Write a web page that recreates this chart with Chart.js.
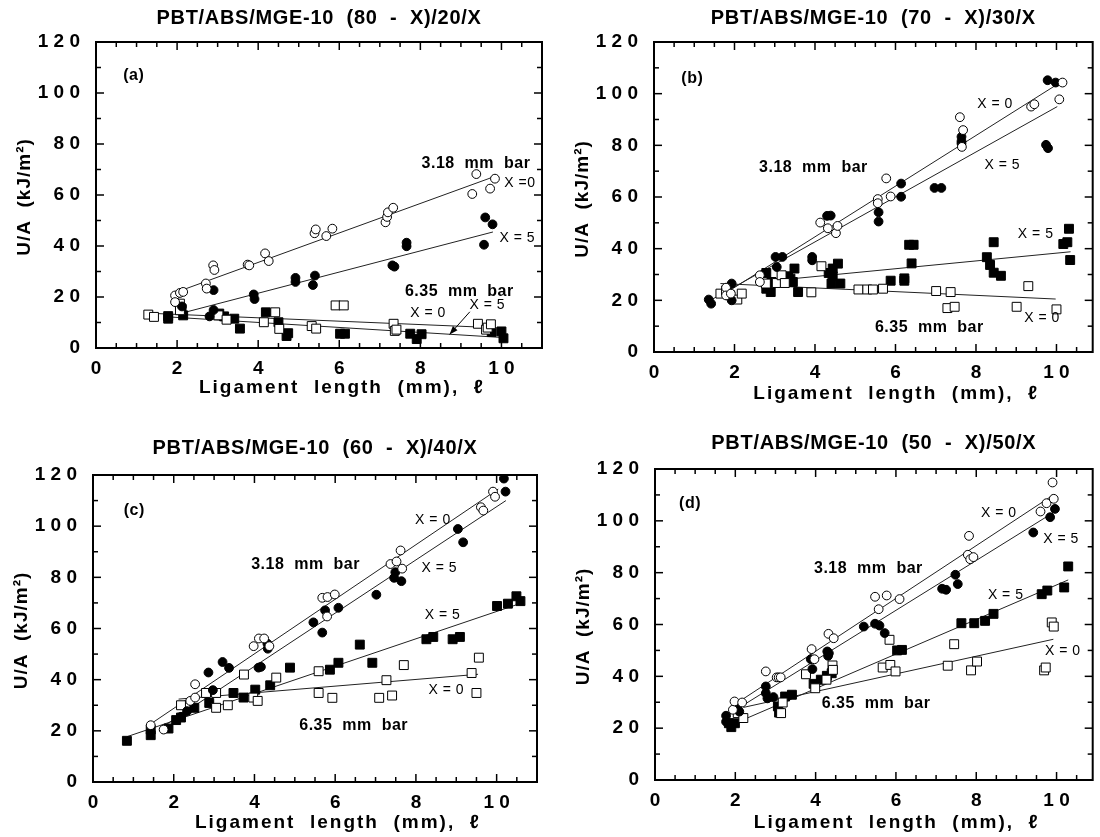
<!DOCTYPE html>
<html>
<head>
<meta charset="utf-8">
<title>PBT/ABS/MGE-10 fracture energy vs ligament length</title>
<script src="https://cdn.jsdelivr.net/npm/chart.js@4.4.0/dist/chart.umd.min.js"></script>
<style>
  body { margin: 0; background: #fff; }
  #page { position: relative; width: 1100px; height: 837px; overflow: hidden; }
  .panel { position: absolute; }
</style>
</head>
<body>
<div id="page">
  <div class="panel" style="left:0;top:0;width:550px;height:418px"><canvas id="chartA"></canvas></div>
  <div class="panel" style="left:550px;top:0;width:550px;height:418px"><canvas id="chartB"></canvas></div>
  <div class="panel" style="left:0;top:418px;width:550px;height:419px"><canvas id="chartC"></canvas></div>
  <div class="panel" style="left:550px;top:418px;width:550px;height:419px"><canvas id="chartD"></canvas></div>
</div>
<script>
// axis ticks shared by all four panels
const xTicks = [0, 2, 4, 6, 8, 10];
const yTicks = [0, 20, 40, 60, 80, 100, 120];

// (a) PBT/ABS/MGE-10 (80 - X)/20/X   -- [ligament mm, U/A kJ/m2]
const aThinX0 = [[1.95,20.6],[1.95,18.0],[2.07,21.6],[2.15,22.0],[2.71,25.3],[2.73,23.3],[2.89,32.4],[2.92,30.6],[3.74,32.7],[3.78,32.4],[4.17,37.1],[4.26,34.1],[5.39,45.0],[5.42,46.5],[5.68,43.9],[5.83,46.8],[7.14,49.3],[7.18,51.4],[7.20,53.2],[7.33,55.0],[9.28,60.4],[9.38,68.2],[9.72,62.5],[9.84,66.4]];
const aThinX5 = [[2.12,16.3],[2.80,12.4],[2.90,22.7],[2.90,14.9],[3.89,21.0],[3.91,19.2],[4.92,27.5],[4.92,25.9],[5.35,24.7],[5.40,28.4],[7.31,32.4],[7.36,31.9],[7.66,41.3],[7.66,39.9],[9.57,40.5],[9.60,51.2],[9.78,48.5]];
const aThickX0 = [[1.29,13.1],[1.43,12.2],[2.07,17.4],[2.07,14.8],[3.02,12.8],[3.22,11.1],[4.14,10.1],[4.42,14.0],[4.52,7.5],[5.32,8.6],[5.43,7.6],[5.91,16.7],[6.11,16.7],[7.34,9.5],[7.37,6.7],[7.41,7.2],[9.42,9.5],[9.62,7.2],[9.66,8.0],[9.74,9.3]];
const aThickX5 = [[1.78,11.5],[1.78,12.5],[2.11,15.4],[2.15,12.8],[3.04,13.5],[3.16,12.4],[3.41,11.5],[3.55,7.6],[4.19,14.0],[4.50,10.1],[4.70,4.7],[4.74,5.8],[6.02,5.6],[6.14,5.6],[7.75,5.6],[7.91,3.5],[8.03,5.4],[9.76,6.3],[10.00,6.5],[10.05,3.8]];
const aFitThinX0 = [[2.0,22.0],[9.82,67.2]];
const aFitThinX5 = [[2.22,14.1],[9.79,45.5]];
const aFitThickX0 = [[1.21,13.7],[9.78,8.0]];
const aFitThickX5 = [[1.78,12.2],[10.03,4.1]];
const aArrow = [[9.22,14.2],[8.72,5.3]];

// (b) PBT/ABS/MGE-10 (70 - X)/30/X
const bThinX0 = [[1.79,24.9],[1.79,21.9],[1.91,22.6],[2.63,29.7],[2.63,27.1],[4.13,50.1],[4.32,47.9],[4.52,46.0],[4.56,48.8],[5.56,59.2],[5.56,57.6],[5.77,67.2],[5.88,60.2],[7.60,90.9],[7.65,79.4],[7.68,85.9],[9.37,95.0],[9.45,95.9],[10.07,97.8],[10.15,104.3]];
const bThinX5 = [[1.36,20.3],[1.42,18.7],[1.93,26.5],[1.93,20.0],[3.02,36.8],[3.19,36.8],[3.05,32.9],[3.93,36.8],[3.93,35.5],[4.30,52.7],[4.39,52.8],[5.58,54.1],[5.58,50.5],[6.14,65.2],[6.14,60.1],[6.97,63.5],[7.14,63.5],[7.64,83.3],[7.64,81.6],[7.64,80.7],[9.74,80.2],[9.79,78.9],[9.78,105.2],[9.98,104.3]];
const bThickX0 = [[1.65,22.6],[1.79,23.7],[1.89,22.0],[2.07,20.3],[2.18,22.6],[2.78,26.5],[3.05,26.7],[3.17,29.7],[3.25,26.7],[3.91,23.1],[4.16,33.2],[5.08,24.2],[5.30,24.2],[5.44,24.2],[5.69,24.5],[7.01,23.6],[7.29,17.0],[7.37,23.2],[7.47,17.5],[9.01,17.5],[9.30,25.5],[10.0,16.5]];
const bThickX5 = [[2.79,30.6],[2.79,24.5],[2.90,23.2],[2.92,27.1],[3.33,29.3],[3.39,28.4],[3.45,27.1],[3.49,32.3],[3.58,23.2],[4.34,30.6],[4.44,32.3],[4.44,29.3],[4.41,26.5],[4.57,34.2],[4.63,26.5],[5.88,27.6],[6.22,28.5],[6.22,27.6],[6.34,41.5],[6.45,41.5],[6.40,34.3],[8.27,36.7],[8.35,33.7],[8.44,42.5],[8.44,30.7],[8.62,29.5],[10.17,41.8],[10.27,42.5],[10.31,47.7],[10.34,35.6]];
const bFitThinX0 = [[1.9,24.0],[10.09,104.3]];
const bFitThinX5 = [[1.4,20.0],[10.02,95.0]];
const bFitThickX0 = [[1.65,26.5],[9.98,20.5]];
const bFitThickX5 = [[2.6,27.1],[10.35,38.8]];

// (c) PBT/ABS/MGE-10 (60 - X)/40/X
const cThinX0 = [[1.43,22.2],[1.75,20.5],[2.41,31.7],[2.53,33.0],[2.53,38.2],[3.98,53.1],[4.11,56.1],[4.24,56.1],[4.37,53.1],[5.68,72.0],[5.80,64.7],[5.81,72.3],[5.99,73.3],[7.37,85.2],[7.52,86.2],[7.62,90.5],[7.66,83.4],[9.61,107.4],[9.67,106.1],[9.91,113.5],[9.96,111.5]];
const cThinX5 = [[2.18,25.5],[2.33,27.7],[2.86,42.8],[2.97,35.9],[3.21,46.9],[3.37,44.6],[4.10,44.7],[4.16,45.0],[4.32,54.1],[4.33,52.1],[5.46,62.4],[5.68,58.4],[5.75,67.1],[6.08,68.1],[7.02,73.2],[7.46,79.8],[7.49,82.0],[7.64,78.5],[9.04,98.9],[9.17,93.7],[10.18,118.6],[10.22,113.5]];
const cThickX0 = [[2.18,30.0],[2.80,34.8],[3.05,34.8],[3.05,29.0],[3.34,30.0],[3.74,42.0],[3.97,33.0],[4.08,31.7],[4.54,40.8],[5.59,34.8],[5.59,43.3],[5.93,32.9],[7.09,32.9],[7.27,39.8],[7.41,33.8],[7.70,45.7],[9.38,42.6],[9.50,34.8],[9.56,48.6]];
const cThickX5 = [[0.84,16.1],[1.43,20.5],[1.43,18.3],[1.87,20.9],[2.06,24.2],[2.18,25.2],[2.51,29.0],[2.88,30.9],[3.48,34.8],[3.73,33.0],[4.02,36.1],[4.39,37.8],[4.88,44.7],[5.87,43.9],[6.08,46.6],[6.61,53.7],[6.92,46.6],[8.26,55.8],[8.43,56.7],[8.91,55.8],[9.09,56.7],[10.01,68.8],[10.28,69.7],[10.49,72.6],[10.59,70.7]];
const cFitThinX0 = [[1.44,22.8],[10.04,114.5]];
const cFitThinX5 = [[1.75,21.8],[10.23,110.0]];
const cFitThickX0 = [[2.12,32.4],[9.54,42.1]];
const cFitThickX5 = [[0.84,17.7],[10.57,69.7]];

// (d) PBT/ABS/MGE-10 (50 - X)/50/X
const dThinX0 = [[1.94,27.1],[1.98,30.3],[2.17,29.9],[2.76,41.9],[3.03,39.6],[3.08,39.6],[3.13,39.6],[3.90,50.5],[3.97,46.6],[4.32,56.4],[4.45,54.7],[5.48,70.7],[5.57,65.9],[5.77,71.2],[6.09,69.8],[7.79,86.9],[7.82,94.2],[7.85,85.2],[7.93,86.0],[9.60,103.6],[9.75,106.8],[9.90,114.8],[9.93,108.5]];
const dThinX5 = [[1.77,24.8],[1.77,22.5],[1.85,21.9],[2.05,27.7],[2.10,26.4],[2.76,36.1],[2.76,33.5],[2.80,31.5],[2.95,32.0],[3.88,46.6],[3.92,42.8],[4.29,49.6],[4.31,47.9],[4.33,48.9],[5.20,59.2],[5.48,60.3],[5.59,59.6],[5.72,56.7],[7.15,73.8],[7.25,73.4],[7.48,79.2],[7.54,75.6],[9.42,95.5],[9.84,101.4],[9.96,104.6]];
const dThickX0 = [[2.06,25.8],[2.20,23.9],[3.14,25.8],[3.18,29.9],[3.76,40.8],[3.99,35.4],[4.27,38.7],[4.42,44.2],[4.43,42.5],[5.67,43.4],[5.84,54.1],[5.86,44.4],[5.99,41.9],[7.29,44.1],[7.45,52.4],[7.87,42.3],[8.02,45.7],[9.69,42.3],[9.73,43.4],[9.88,60.8],[9.93,59.2]];
const dThickX5 = [[1.84,21.9],[1.90,20.4],[1.99,21.9],[3.09,26.0],[3.06,28.4],[3.24,32.2],[3.41,32.9],[3.95,37.1],[4.13,38.7],[4.28,40.2],[4.40,41.2],[6.03,50.0],[6.15,50.2],[7.63,60.5],[7.95,60.5],[8.22,61.4],[8.43,64.1],[9.63,71.7],[9.77,73.1],[10.19,74.3],[10.29,82.4]];
const dFitThinX0 = [[2.06,29.9],[9.92,110.0]];
const dFitThinX5 = [[1.94,26.4],[9.89,102.9]];
const dFitThickX0 = [[2.2,28.0],[9.92,54.3]];
const dFitThickX5 = [[2.10,22.6],[10.29,77.2]];

const FONT = '"Liberation Sans", Arial, Helvetica, sans-serif';
const spaced = v => String(v).split('').join(' ');
const toPts = arr => arr.map(([x, y]) => ({ x, y }));

function makeChart(id, p) {
  const canvas = document.getElementById(id);
  const W = canvas.parentNode.clientWidth;
  const H = canvas.parentNode.clientHeight;

  const marks = [
    { data: p.series[0], pointStyle: 'circle', pointRadius: 4.4, pointBackgroundColor: '#fff' },
    { data: p.series[1], pointStyle: 'circle', pointRadius: 4.4, pointBackgroundColor: '#000' },
    { data: p.series[2], pointStyle: 'rect', pointRadius: 6.3, pointBackgroundColor: '#fff' },
    { data: p.series[3], pointStyle: 'rect', pointRadius: 6.3, pointBackgroundColor: '#000' }
  ].map(d => ({ ...d, data: toPts(d.data), pointBorderColor: '#000', pointBorderWidth: 1, showLine: false }));

  // straight fit lines, drawn under the markers
  const fits = p.fits.map(f => ({
    data: toPts(f), showLine: true, borderColor: '#222', borderWidth: 1, pointRadius: 0, fill: false
  }));

  const frame = {
    id: 'frame',
    afterDraw(chart) {
      const { ctx, chartArea: a, scales: { x, y } } = chart;
      const seg = (x1, y1, x2, y2) => { ctx.beginPath(); ctx.moveTo(x1, y1); ctx.lineTo(x2, y2); ctx.stroke(); };
      ctx.save();
      ctx.strokeStyle = '#000';
      ctx.fillStyle = '#000';

      // inward ticks on all four sides
      ctx.lineWidth = 1.5;
      for (let v = 0; v <= p.xMax + 1e-6; v += 0.5) {
        const px = x.getPixelForValue(v);
        const len = v % 2 === 0 ? 8 : 5;
        seg(px, a.bottom, px, a.bottom - len);
        seg(px, a.top, px, a.top + len);
      }
      for (let v = 0; v <= 120; v += 10) {
        const py = y.getPixelForValue(v);
        const len = v % 20 === 0 ? 8 : 5;
        seg(a.left, py, a.left + len, py);
        seg(a.right, py, a.right - len, py);
      }
      ctx.lineWidth = 2;
      ctx.strokeRect(a.left, a.top, a.right - a.left, a.bottom - a.top);

      const cx = (a.left + a.right) / 2;
      const cy = (a.top + a.bottom) / 2;
      ctx.textBaseline = 'middle';
      ctx.textAlign = 'center';

      // chart title
      ctx.letterSpacing = '0.7px';
      ctx.font = `bold 20px ${FONT}`;
      ctx.fillText(p.title, cx, a.top - p.titleGap);

      // axis titles
      ctx.letterSpacing = '2px';
      ctx.font = `bold 19px ${FONT}`;
      ctx.fillText('Ligament  length  (mm),  \u2113', cx + 23, a.bottom + p.xTitleGap);
      ctx.letterSpacing = '1px';
      ctx.save();
      ctx.translate(a.left - 71, cy + 2);
      ctx.rotate(-Math.PI / 2);
      ctx.fillText('U/A  (kJ/m\u00B2)', 0, 0);
      ctx.restore();

      // in-plot labels
      ctx.textAlign = 'left';
      ctx.letterSpacing = '0.5px';
      p.notes.forEach(([text, vx, vy, bold]) => {
        ctx.font = bold ? `bold 16px ${FONT}` : `14px ${FONT}`;
        ctx.fillText(text, x.getPixelForValue(vx), y.getPixelForValue(vy));
      });

      // pointer arrow
      if (p.arrow) {
        const [x1, y1] = [x.getPixelForValue(p.arrow[0][0]), y.getPixelForValue(p.arrow[0][1])];
        const [x2, y2] = [x.getPixelForValue(p.arrow[1][0]), y.getPixelForValue(p.arrow[1][1])];
        ctx.lineWidth = 1;
        seg(x1, y1, x2, y2);
        const ang = Math.atan2(y2 - y1, x2 - x1);
        ctx.beginPath();
        ctx.moveTo(x2, y2);
        ctx.lineTo(x2 - 9 * Math.cos(ang - 0.35), y2 - 9 * Math.sin(ang - 0.35));
        ctx.lineTo(x2 - 9 * Math.cos(ang + 0.35), y2 - 9 * Math.sin(ang + 0.35));
        ctx.closePath();
        ctx.fill();
      }
      ctx.restore();
    }
  };

  const tickFont = { family: FONT, size: 19, weight: 'bold' };

  return new Chart(canvas, {
    type: 'scatter',
    data: { datasets: [...marks, ...fits] },
    options: {
      responsive: true,
      maintainAspectRatio: false,
      animation: false,
      events: [],
      layout: { padding: { top: p.box.top, right: W - p.box.right, left: 0, bottom: 0 } },
      plugins: { legend: { display: false }, tooltip: { enabled: false }, title: { display: false } },
      scales: {
        x: {
          type: 'linear', min: 0, max: p.xMax,
          grid: { display: false }, border: { display: false },
          afterBuildTicks: s => { s.ticks = xTicks.map(v => ({ value: v })); },
          afterFit: s => { s.height = H - p.box.bottom; },
          ticks: { padding: 1, font: tickFont, color: '#000', maxRotation: 0, autoSkip: false, callback: v => spaced(v) }
        },
        y: {
          type: 'linear', min: 0, max: 120,
          grid: { display: false }, border: { display: false },
          afterBuildTicks: s => { s.ticks = yTicks.map(v => ({ value: v })); },
          afterFit: s => { s.width = p.box.left; },
          ticks: { padding: 8, font: tickFont, color: '#000', autoSkip: false, callback: v => spaced(v) }
        }
      }
    },
    plugins: [frame]
  });
}

makeChart('chartA', {
  title: 'PBT/ABS/MGE-10  (80  -  X)/20/X',
  box: { left: 96, top: 42, right: 542, bottom: 348 }, xMax: 11, titleGap: 24, xTitleGap: 40,
  series: [aThinX0, aThinX5, aThickX0, aThickX5],
  fits: [aFitThinX0, aFitThinX5, aFitThickX0, aFitThickX5],
  arrow: aArrow,
  notes: [['(a)', 0.67, 107, true], ['3.18  mm  bar', 8.03, 72.5, true], ['X =0', 10.07, 64.7, false],
          ['X = 5', 9.95, 42.9, false], ['6.35  mm  bar', 7.62, 22.0, true], ['X = 0', 7.75, 13.5, false],
          ['X = 5', 9.21, 16.7, false]]
});

makeChart('chartB', {
  title: 'PBT/ABS/MGE-10  (70  -  X)/30/X',
  box: { left: 104, top: 42, right: 545, bottom: 352 }, xMax: 10.9, titleGap: 24, xTitleGap: 42,
  series: [bThinX0, bThinX5, bThickX0, bThickX5],
  fits: [bFitThinX0, bFitThinX5, bFitThickX0, bFitThickX5],
  notes: [['(b)', 0.68, 105.8, true], ['X = 0', 8.03, 95.9, false], ['3.18  mm  bar', 2.61, 71.2, true],
          ['X = 5', 8.21, 72.5, false], ['X = 5', 9.04, 45.6, false], ['X = 0', 9.2, 13.0, false],
          ['6.35  mm  bar', 5.49, 9.3, true]]
});

makeChart('chartC', {
  title: 'PBT/ABS/MGE-10  (60  -  X)/40/X',
  box: { left: 93, top: 57, right: 537, bottom: 364 }, xMax: 11, titleGap: 27, xTitleGap: 41,
  series: [cThinX0, cThinX5, cThickX0, cThickX5],
  fits: [cFitThinX0, cFitThinX5, cFitThickX0, cFitThickX5],
  notes: [['(c)', 0.76, 106.1, true], ['X = 0', 7.98, 102.2, false], ['3.18  mm  bar', 3.92, 84.9, true],
          ['X = 5', 8.14, 83.6, false], ['X = 5', 8.22, 65.1, false], ['X = 0', 8.31, 36.1, false],
          ['6.35  mm  bar', 5.11, 22.2, true]]
});

makeChart('chartD', {
  title: 'PBT/ABS/MGE-10  (50  -  X)/50/X',
  box: { left: 105, top: 51, right: 545, bottom: 362 }, xMax: 10.9, titleGap: 26, xTitleGap: 43,
  series: [dThinX0, dThinX5, dThickX0, dThickX5],
  fits: [dFitThinX0, dFitThinX5, dFitThickX0, dFitThickX5],
  notes: [['(d)', 0.6, 106.8, true], ['X = 0', 8.12, 103, false], ['X = 5', 9.67, 92.9, false],
          ['3.18  mm  bar', 3.96, 81.7, true], ['X = 5', 8.29, 71.4, false], ['X = 0', 9.71, 49.8, false],
          ['6.35  mm  bar', 4.15, 29.3, true]]
});
</script>
</body>
</html>
